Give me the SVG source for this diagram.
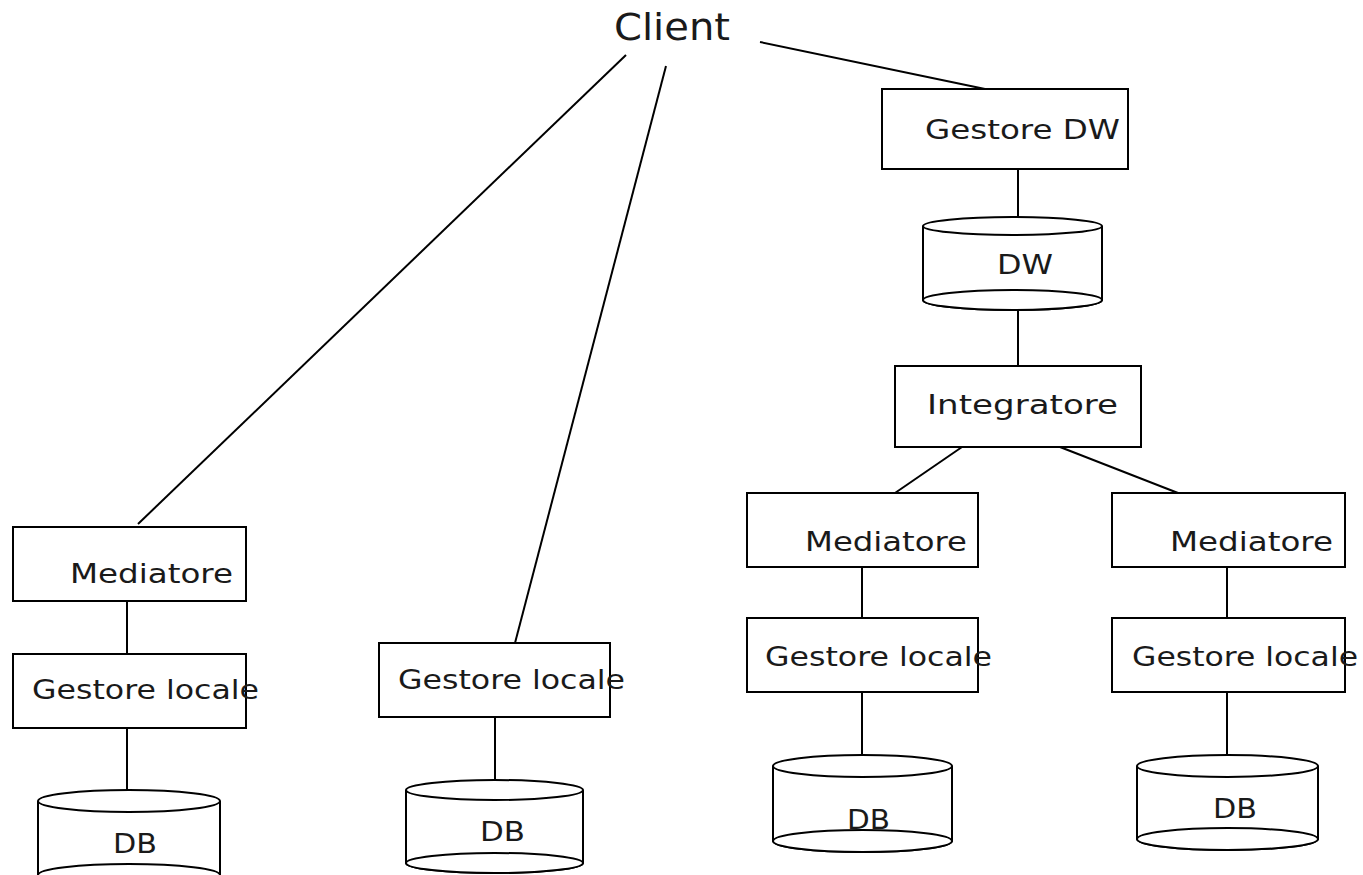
<svg xmlns="http://www.w3.org/2000/svg" width="1363" height="875" viewBox="0 0 1363 875">
  <style>
    .box { fill: #fff; stroke: #000; stroke-width: 2; }
    .cyl { fill: #fff; stroke: #000; stroke-width: 2; }
    .link { fill: none; stroke: #000; stroke-width: 2; }
    .lbl { font-family: "DejaVu Sans", "Liberation Sans", sans-serif; font-size: 26px; fill: #1a1a1a; }
    .title { font-family: "DejaVu Sans", "Liberation Sans", sans-serif; font-size: 38px; fill: #1a1a1a; }
  </style>
  <rect width="1363" height="875" fill="#fff"/>

  <!-- connectors -->
  <g id="connectors">
    <line class="link" x1="626" y1="55" x2="138" y2="524"/>
    <line class="link" x1="666" y1="66" x2="515" y2="643"/>
    <line class="link" x1="760" y1="42" x2="985" y2="89"/>
    <line class="link" x1="1018" y1="169" x2="1018" y2="217"/>
    <line class="link" x1="1018" y1="310" x2="1018" y2="366"/>
    <line class="link" x1="962" y1="447" x2="895" y2="493"/>
    <line class="link" x1="1060" y1="447" x2="1178" y2="493"/>
    <line class="link" x1="127" y1="601" x2="127" y2="654"/>
    <line class="link" x1="127" y1="728" x2="127" y2="790"/>
    <line class="link" x1="495" y1="717" x2="495" y2="780"/>
    <line class="link" x1="862" y1="567" x2="862" y2="618"/>
    <line class="link" x1="862" y1="692" x2="862" y2="755"/>
    <line class="link" x1="1227" y1="567" x2="1227" y2="618"/>
    <line class="link" x1="1227" y1="692" x2="1227" y2="755"/>
  </g>

  <g id="client">
    <text class="title" x="614" y="40" textLength="116" lengthAdjust="spacingAndGlyphs">Client</text>
  </g>

  <g id="gestore-dw">
    <rect class="box" x="882" y="89" width="246" height="80"/>
    <text class="lbl" x="925" y="139" textLength="195" lengthAdjust="spacingAndGlyphs">Gestore DW</text>
  </g>

  <g id="dw">
    <path class="cyl" d="M923,226 L923,300 A89.5,10 0 0 0 1102,300 L1102,226"/>
    <ellipse class="cyl" cx="1012.5" cy="300" rx="89.5" ry="10"/>
    <ellipse class="cyl" cx="1012.5" cy="226" rx="89.5" ry="9"/>
    <text class="lbl" x="997" y="274" textLength="56" lengthAdjust="spacingAndGlyphs">DW</text>
  </g>

  <g id="integratore">
    <rect class="box" x="895" y="366" width="246" height="81"/>
    <text class="lbl" x="927" y="414" textLength="191" lengthAdjust="spacingAndGlyphs">Integratore</text>
  </g>

  <!-- left branch -->
  <g id="mediatore-1">
    <rect class="box" x="13" y="527" width="233" height="74"/>
    <text class="lbl" x="70" y="583" textLength="163" lengthAdjust="spacingAndGlyphs">Mediatore</text>
  </g>
  <g id="gestore-locale-1">
    <rect class="box" x="13" y="654" width="233" height="74"/>
    <text class="lbl" x="32" y="699" textLength="227" lengthAdjust="spacingAndGlyphs">Gestore locale</text>
  </g>
  <g id="db-1">
    <path class="cyl" d="M38,801 L38,875 L220,875 L220,801"/>
    <ellipse class="cyl" cx="129" cy="875" rx="91" ry="11"/>
    <ellipse class="cyl" cx="129" cy="801" rx="91" ry="11"/>
    <text class="lbl" x="113" y="853" textLength="44" lengthAdjust="spacingAndGlyphs">DB</text>
  </g>

  <!-- middle branch -->
  <g id="gestore-locale-2">
    <rect class="box" x="379" y="643" width="231" height="74"/>
    <text class="lbl" x="398" y="689" textLength="227" lengthAdjust="spacingAndGlyphs">Gestore locale</text>
  </g>
  <g id="db-2">
    <path class="cyl" d="M406,790 L406,863 A88.5,10 0 0 0 583,863 L583,790"/>
    <ellipse class="cyl" cx="494.5" cy="863" rx="88.5" ry="10"/>
    <ellipse class="cyl" cx="494.5" cy="790" rx="88.5" ry="10"/>
    <text class="lbl" x="480" y="841" textLength="45" lengthAdjust="spacingAndGlyphs">DB</text>
  </g>

  <!-- right branch, first source -->
  <g id="mediatore-2">
    <rect class="box" x="747" y="493" width="231" height="74"/>
    <text class="lbl" x="805" y="551" textLength="162" lengthAdjust="spacingAndGlyphs">Mediatore</text>
  </g>
  <g id="gestore-locale-3">
    <rect class="box" x="747" y="618" width="231" height="74"/>
    <text class="lbl" x="765" y="666" textLength="227" lengthAdjust="spacingAndGlyphs">Gestore locale</text>
  </g>
  <g id="db-3">
    <path class="cyl" d="M773,766 L773,841 A89.5,11 0 0 0 952,841 L952,766"/>
    <ellipse class="cyl" cx="862.5" cy="841" rx="89.5" ry="11"/>
    <ellipse class="cyl" cx="862.5" cy="766" rx="89.5" ry="11"/>
    <text class="lbl" x="847" y="829" textLength="43" lengthAdjust="spacingAndGlyphs">DB</text>
  </g>

  <!-- right branch, second source -->
  <g id="mediatore-3">
    <rect class="box" x="1112" y="493" width="233" height="74"/>
    <text class="lbl" x="1170" y="551" textLength="163" lengthAdjust="spacingAndGlyphs">Mediatore</text>
  </g>
  <g id="gestore-locale-4">
    <rect class="box" x="1112" y="618" width="233" height="74"/>
    <text class="lbl" x="1132" y="666" textLength="226" lengthAdjust="spacingAndGlyphs">Gestore locale</text>
  </g>
  <g id="db-4">
    <path class="cyl" d="M1137,766 L1137,839 A90.5,11 0 0 0 1318,839 L1318,766"/>
    <ellipse class="cyl" cx="1227.5" cy="839" rx="90.5" ry="11"/>
    <ellipse class="cyl" cx="1227.5" cy="766" rx="90.5" ry="11"/>
    <text class="lbl" x="1213" y="818" textLength="44" lengthAdjust="spacingAndGlyphs">DB</text>
  </g>
</svg>
